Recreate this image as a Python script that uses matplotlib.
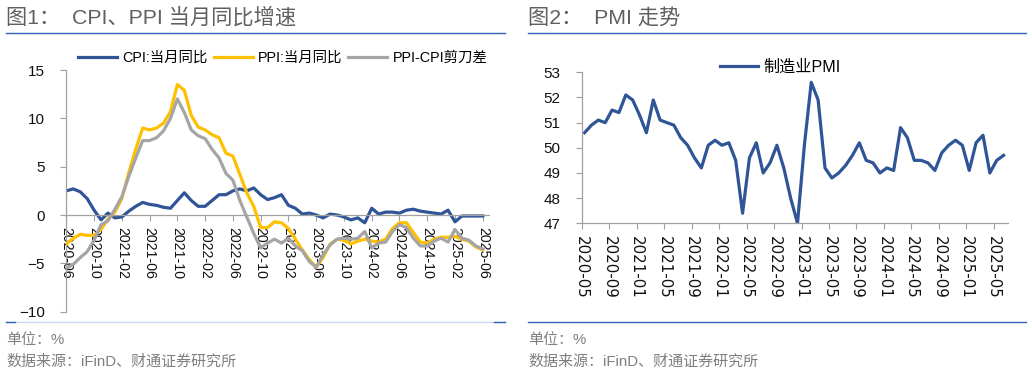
import matplotlib
matplotlib.use("Agg")
import matplotlib.pyplot as plt
from matplotlib.lines import Line2D
import numpy as np

plt.rcParams['font.family'] = ['Liberation Sans', 'Noto Sans CJK SC', 'DejaVu Sans']

# ---------------- data: figure 1 (2020-06 .. 2025-06) ----------------
cpi = [2.5, 2.7, 2.4, 1.7, 0.5, -0.5, 0.2,
       -0.3, -0.2, 0.4, 0.9, 1.3, 1.1, 1.0, 0.8, 0.7, 1.5, 2.3, 1.5,
       0.9, 0.9, 1.5, 2.1, 2.1, 2.5, 2.7, 2.5, 2.8, 2.1, 1.6, 1.8,
       2.1, 1.0, 0.7, 0.1, 0.2, 0.0, -0.3, 0.1, 0.0, -0.2, -0.5, -0.3,
       -0.8, 0.7, 0.1, 0.3, 0.3, 0.2, 0.5, 0.6, 0.4, 0.3, 0.2, 0.1,
       0.5, -0.7, -0.1, -0.1, -0.1, -0.1]
ppi = [-3.0, -2.4, -2.0, -2.1, -2.1, -1.5, -0.4,
       0.3, 1.7, 4.4, 6.8, 9.0, 8.8, 9.0, 9.5, 10.7, 13.5, 12.9, 10.3,
       9.1, 8.8, 8.3, 8.0, 6.4, 6.1, 4.2, 2.3, 0.9, -1.3, -1.3, -0.7,
       -0.8, -1.4, -2.5, -3.6, -4.6, -5.4, -4.4, -3.0, -2.5, -2.6, -3.0, -2.7,
       -2.5, -2.7, -2.8, -2.5, -1.4, -0.8, -0.8, -1.8, -2.8, -2.9, -2.5, -2.3,
       -2.3, -2.2, -2.5, -2.7, -3.3, -3.6]
gap = [-5.5, -5.1, -4.4, -3.8, -2.6, -1.0, -0.6,
       0.6, 1.9, 4.0, 5.9, 7.7, 7.7, 8.0, 8.7, 10.0, 12.0, 10.6, 8.8,
       8.2, 7.9, 6.8, 5.9, 4.3, 3.6, 1.5, -0.2, -1.9, -3.4, -2.9, -2.5,
       -2.9, -2.4, -3.2, -3.7, -4.8, -5.4, -4.1, -3.1, -2.5, -2.4, -2.5, -2.4,
       -1.7, -3.4, -2.9, -2.8, -1.7, -1.0, -1.3, -2.4, -3.2, -3.2, -2.7, -2.4,
       -2.8, -1.5, -2.4, -2.6, -3.2, -3.5]
ticks1 = ['2020-06', '2020-10', '2021-02', '2021-06', '2021-10', '2022-02',
          '2022-06', '2022-10', '2023-02', '2023-06', '2023-10', '2024-02',
          '2024-06', '2024-10', '2025-02', '2025-06']

# ---------------- data: figure 2 (2020-05 .. 2025-06) ----------------
pmi = [50.6, 50.9, 51.1, 51.0, 51.5, 51.4, 52.1, 51.9,
       51.3, 50.6, 51.9, 51.1, 51.0, 50.9, 50.4, 50.1, 49.6, 49.2, 50.1, 50.3,
       50.1, 50.2, 49.5, 47.4, 49.6, 50.2, 49.0, 49.4, 50.1, 49.2, 48.0, 47.0,
       50.1, 52.6, 51.9, 49.2, 48.8, 49.0, 49.3, 49.7, 50.2, 49.5, 49.4, 49.0,
       49.2, 49.1, 50.8, 50.4, 49.5, 49.5, 49.4, 49.1, 49.8, 50.1, 50.3, 50.1,
       49.1, 50.2, 50.5, 49.0, 49.5, 49.7]
ticks2 = ['2020-05', '2020-09', '2021-01', '2021-05', '2021-09', '2022-01',
          '2022-05', '2022-09', '2023-01', '2023-05', '2023-09', '2024-01',
          '2024-05', '2024-09', '2025-01', '2025-05']

BLUE = '#2F5597'
YEL = '#FFC000'
GRAY = '#A5A5A5'
SPINE = '#A0A0A0'
TXT = '#606060'

W, H = 1032, 374
fig = plt.figure(figsize=(W / 100, H / 100), dpi=100)

def fx(px):
    return px / W

def fy(py):
    return 1 - py / H

def style(ax, pad_x, xsize):
    for s in ['top', 'right']:
        ax.spines[s].set_visible(False)
    for s in ['left', 'bottom']:
        ax.spines[s].set_color(SPINE)
        ax.spines[s].set_linewidth(0.9)
    ax.tick_params(axis='y', direction='out', length=4.3, width=0.8, color=SPINE,
                   labelsize=11, pad=11, labelcolor='#111111')
    ax.tick_params(axis='x', direction='out', length=4, width=0.8, color=SPINE,
                   labelsize=xsize, pad=pad_x, labelcolor='#111111')

# ---------- left chart ----------
ax1 = fig.add_axes([fx(66), fy(311.7), fx(489 - 66), (311.7 - 70) / H])
ax1.spines['bottom'].set_position(('data', 0))
l1, = ax1.plot(np.arange(len(cpi)), cpi, color=BLUE, lw=2.3, label='CPI:当月同比', zorder=2)
l2, = ax1.plot(np.arange(len(ppi)), ppi, color=YEL, lw=2.3, label='PPI:当月同比', zorder=3)
l3, = ax1.plot(np.arange(len(gap)), gap, color=GRAY, lw=2.3, label='PPI-CPI剪刀差', zorder=4)
ax1.set_ylim(-10, 15)
ax1.set_yticks([-10, -5, 0, 5, 10, 15])
ax1.set_xlim(-0.05, 60.9)
ax1.set_xticks(np.arange(0, 61, 4))
ax1.set_xticklabels(ticks1, rotation=270, ha='center', va='top')
style(ax1, 4.3, 10.2)

fig.legend(handles=[l1, l2, l3], loc='center', bbox_to_anchor=(fx(282.5), fy(58)),
           ncol=3, frameon=False, fontsize=10.4, handlelength=2.7, handletextpad=0.35,
           columnspacing=0.45, borderpad=0, borderaxespad=0)

# ---------- right chart ----------
ax2 = fig.add_axes([fx(581.7), fy(223.3), fx(1007.7 - 581.7), (223.3 - 72.3) / H])
l4, = ax2.plot(np.arange(len(pmi)), pmi, color=BLUE, lw=2.3, label='制造业PMI')
ax2.set_ylim(47, 53)
ax2.set_yticks(np.arange(47, 54, 1))
ax2.set_xlim(-0.42, 61.6)
ax2.set_xticks(np.arange(0, 61, 4) - 0.42)
ax2.set_xticklabels(ticks2, rotation=270, ha='center', va='top',
                    family=['DejaVu Sans'])
style(ax2, 5.5, 10.8)

fig.legend(handles=[l4], loc='center', bbox_to_anchor=(fx(780), fy(66.7)),
           frameon=False, fontsize=11.6, handlelength=2.4, handletextpad=0.3,
           borderpad=0, borderaxespad=0)

# ---------- titles, rules, footnotes ----------
fig.text(fx(6), fy(17.5), '图1：  CPI、PPI 当月同比增速', fontsize=15.3, color=TXT,
         ha='left', va='center')
fig.text(fx(528.5), fy(17.5), '图2：  PMI 走势', fontsize=15.3, color=TXT,
         ha='left', va='center')

fig.add_artist(Line2D([fx(6), fx(505)], [fy(32.7)] * 2, color='#2E64B4', lw=1.0))
fig.add_artist(Line2D([fx(528), fx(1026)], [fy(32.7)] * 2, color='#2E64B4', lw=1.0))

fig.add_artist(Line2D([fx(6), fx(505)], [fy(321.7)] * 2, color='#C9D8EE', lw=1.0))
fig.add_artist(Line2D([fx(6), fx(15)], [fy(321.7)] * 2, color='#2E64B4', lw=1.0))
fig.add_artist(Line2D([fx(494), fx(505)], [fy(321.7)] * 2, color='#2E64B4', lw=1.0))
fig.add_artist(Line2D([fx(528), fx(1026)], [fy(321.7)] * 2, color='#2E64B4', lw=1.0))

for x0 in (6, 528.5):
    fig.text(fx(x0), fy(340), '单位：%', fontsize=10.8, color='#7F7F7F', ha='left', va='center')
    fig.text(fx(x0), fy(361.5), '数据来源：iFinD、财通证券研究所', fontsize=10.8, color='#7F7F7F',
             ha='left', va='center')

fig.savefig('out.png', dpi=100)
